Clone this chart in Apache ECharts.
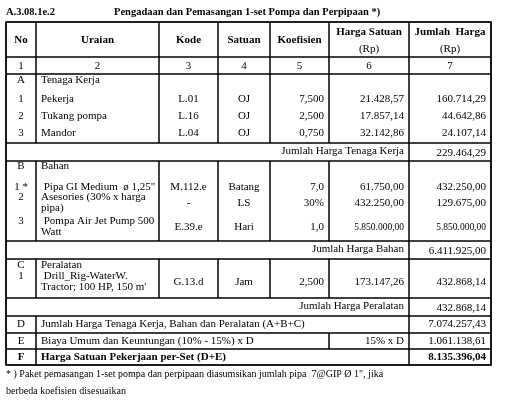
<!DOCTYPE html>
<html>
<head>
<meta charset="utf-8">
<script src="https://cdn.jsdelivr.net/npm/echarts@6/dist/echarts.min.js"></script>
<style>html,body{margin:0;background:#fff}#chart{width:505px;height:404px}</style>
</head>
<body>
<div id="chart"></div>
<script>
// --- data ---
var title = ['A.3.08.1e.2', 'Pengadaan dan Pemasangan 1-set Pompa dan Perpipaan *)'];
var headers = [['No'], ['Uraian'], ['Kode'], ['Satuan'], ['Koefisien'], ['Harga Satuan', '(Rp)'], ['Jumlah  Harga', '(Rp)']];
var colNumbers = ['1', '2', '3', '4', '5', '6', '7'];
var labour = [
  ['1', ['Pekerja'], 'L.01', 'OJ', '7,500', '21.428,57', '160.714,29'],
  ['2', ['Tukang pompa'], 'L.16', 'OJ', '2,500', '17.857,14', '44.642,86'],
  ['3', ['Mandor'], 'L.04', 'OJ', '0,750', '32.142,86', '24.107,14']
];
var materials = [
  ['1 *', [' Pipa GI Medium  ø 1,25"'], 'M.112.e', 'Batang', '7,0', '61.750,00', '432.250,00'],
  ['2', ['Asesories (30% x harga', 'pipa)'], '-', 'LS', '30%', '432.250,00', '129.675,00'],
  ['3', [' Pompa Air Jet Pump 500', 'Watt'], 'E.39.e', 'Hari', '1,0', '5.850.000,00', '5.850.000,00']
];
var equipment = [
  ['1', [' Drill_Rig-WaterW.', 'Tractor; 100 HP, 150 m\''], 'G.13.d', 'Jam', '2,500', '173.147,26', '432.868,14']
];
var sections = [['A', 'Tenaga Kerja'], ['B', 'Bahan'], ['C', 'Peralatan']];
var subtotals = [['Jumlah Harga Tenaga Kerja', '229.464,29'], ['Jumlah Harga Bahan', '6.411.925,00'], ['Jumlah Harga Peralatan', '432.868,14']];
var summary = [
  ['D', 'Jumlah Harga Tenaga Kerja, Bahan dan Peralatan (A+B+C)', '', '7.074.257,43'],
  ['E', 'Biaya Umum dan Keuntungan (10% - 15%) x D', '15% x D', '1.061.138,61'],
  ['F', 'Harga Satuan Pekerjaan per-Set (D+E)', '', '8.135.396,04']
];
var footnote = ['* ) Paket pemasangan 1-set pompa dan perpipaan diasumsikan jumlah pipa  7@GIP Ø 1", jika', 'berbeda koefisien disesuaikan'];

// --- layout ---
var cols = [6, 36, 159, 218, 270, 329, 409, 491];
var FONT = '"Liberation Serif", "DejaVu Serif", serif';
var els = [];

function cell(x0, x1, y0, y1) {
  els.push({type: 'rect', shape: {x: x0, y: y0, width: x1 - x0, height: y1 - y0},
    style: {fill: 'none', stroke: '#000', lineWidth: 1}});
}
function txt(s, x, y, align, bold, size) {
  els.push({type: 'text', x: x, y: y, style: {text: s, align: align || 'left', verticalAlign: 'middle',
    font: (bold ? 'bold ' : '') + (size || 11) + 'px ' + FONT, fill: '#000'}});
}
function band(y0, y1, spans) {
  spans.forEach(function (s) { cell(cols[s[0]], cols[s[1] + 1], y0, y1); });
}
var sep = [[0, 0], [1, 1], [2, 2], [3, 3], [4, 4], [5, 5], [6, 6]];
var totSpan = [[0, 5], [6, 6]];

function colPos(i) {
  if (i === 0 || i === 2 || i === 3) return [(cols[i] + cols[i + 1]) / 2, 'center'];
  if (i === 1) return [cols[1] + 5, 'left'];
  return [cols[i + 1] - 5, 'right'];
}
function itemRow(r, y, lineGap) {
  var n = r[1].length;
  var mid = y + (n - 1) * lineGap / 2;
  [0, 2, 3, 4, 5, 6].forEach(function (i) {
    var p = colPos(i);
    var small = r[i].length > 11;
    txt(r[i], p[0], i === 0 ? y : mid + (n > 1 ? 1 : 0), p[1], false, small ? 9.5 : 11);
  });
  r[1].forEach(function (l, k) { txt(l, cols[1] + 5, y + k * lineGap, 'left', false, 11); });
}

txt(title[0], 6, 12, 'left', true, 10.5);
txt(title[1], 114, 12, 'left', true, 10.5);

band(22, 57, sep);
headers.forEach(function (h, i) {
  var c = (cols[i] + cols[i + 1]) / 2;
  if (h.length === 1) txt(h[0], c, 40, 'center', true, 11);
  else { txt(h[0], c, 32, 'center', true, 11); txt(h[1], c, 49, 'center', false, 11); }
});
band(57, 74, sep);
colNumbers.forEach(function (s, i) { txt(s, (cols[i] + cols[i + 1]) / 2, 66, 'center', false, 11); });

var blocks = [
  {y0: 74, y1: 143, head: 80, items: labour, ys: [99, 116, 133]},
  {y0: 161, y1: 241, head: 166, items: materials, ys: [187, 197, 221]},
  {y0: 259, y1: 298, head: 265, items: equipment, ys: [276]}
];
blocks.forEach(function (b, k) {
  band(b.y0, b.y1, sep);
  txt(sections[k][0], cols[0] + 15, b.head, 'center', false, 11);
  txt(sections[k][1], cols[1] + 5, b.head, 'left', false, 11);
  b.items.forEach(function (r, j) { itemRow(r, b.ys[j], 11); });
  var t0 = b.y1, t1 = b.y1 + 18;
  band(t0, t1, totSpan);
  txt(subtotals[k][0], cols[6] - 5, t0 + 8, 'right', false, 11);
  txt(subtotals[k][1], cols[7] - 5, t0 + 10, 'right', false, 11);
});

var sumRows = [[316, 333, [[0, 0], [1, 5], [6, 6]]], [333, 349, [[0, 0], [1, 4], [5, 5], [6, 6]]], [349, 365, [[0, 0], [1, 5], [6, 6]]]];
summary.forEach(function (r, k) {
  var y0 = sumRows[k][0], y1 = sumRows[k][1], ym = (y0 + y1) / 2, bold = k === 2;
  band(y0, y1, sumRows[k][2]);
  txt(r[0], cols[0] + 15, ym, 'center', bold, 11);
  txt(r[1], cols[1] + 5, ym, 'left', bold, 11);
  if (r[2]) txt(r[2], cols[6] - 5, ym, 'right', false, 11);
  txt(r[3], cols[7] - 5, ym, 'right', bold, 11);
});
els.push({type: 'rect', shape: {x: cols[0], y: 22, width: cols[7] - cols[0], height: 343},
  style: {fill: 'none', stroke: '#000', lineWidth: 1.6}});

txt(footnote[0], 6, 374, 'left', false, 10);
txt(footnote[1], 6, 391, 'left', false, 10);

var myChart = echarts.init(document.getElementById('chart'));
myChart.setOption({animation: false, graphic: {elements: els}});
</script>
</body>
</html>
